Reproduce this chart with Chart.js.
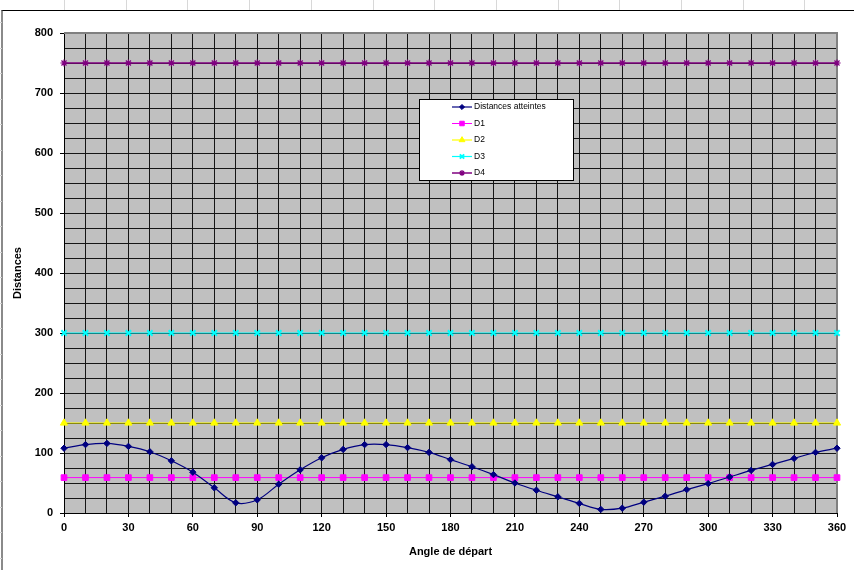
<!DOCTYPE html>
<html>
<head>
<meta charset="utf-8">
<title>Distances atteintes</title>
<script src="https://cdn.jsdelivr.net/npm/chart.js@4/dist/chart.umd.min.js"></script>
<style>
  html, body { margin: 0; padding: 0; background: #fff; }
  #sheet { position: relative; width: 854px; height: 570px; overflow: hidden; background: #fff; }
  .cellv { position: absolute; top: 0; width: 1px; height: 10px; background: #d8d8d8; }
  .cellh { position: absolute; left: 0; width: 2px; height: 1px; background: #d0d0d0; }
  #frame { position: absolute; left: 1px; top: 10px; width: 870px; height: 580px;
           border-left: 2px solid #8a8a8a; border-top: 1px solid #000; background: #fff; }
  #chart { position: absolute; left: 0; top: 0; }
</style>
</head>
<body>
<div id="sheet">
  <div id="frame"></div>
  <canvas id="chart" width="854" height="570"></canvas>
</div>
<script>
// Angles de départ (degrés)
const angles = [0, 10, 20, 30, 40, 50, 60, 70, 80, 90, 100, 110, 120, 130, 140, 150, 160, 170, 180,
                190, 200, 210, 220, 230, 240, 250, 260, 270, 280, 290, 300, 310, 320, 330, 340, 350, 360];

// Distances atteintes pour chaque angle
const distancesAtteintes = [108, 114, 116, 111, 102, 87, 68, 42, 17, 22, 48, 72, 92, 106, 114, 114, 109, 101, 89,
                            77, 64, 50, 38, 27, 16, 6, 8, 18, 28, 39, 49, 60, 71, 81, 91, 101, 108];

// Seuils D1 à D4
const d1 = [59, 59, 59, 59, 59, 59, 59, 59, 59, 59, 59, 59, 59, 59, 59, 59, 59, 59, 59,
            59, 59, 59, 59, 59, 59, 59, 59, 59, 59, 59, 59, 59, 59, 59, 59, 59, 59];
const d2 = [150, 150, 150, 150, 150, 150, 150, 150, 150, 150, 150, 150, 150, 150, 150, 150, 150, 150, 150,
            150, 150, 150, 150, 150, 150, 150, 150, 150, 150, 150, 150, 150, 150, 150, 150, 150, 150];
const d3 = [300, 300, 300, 300, 300, 300, 300, 300, 300, 300, 300, 300, 300, 300, 300, 300, 300, 300, 300,
            300, 300, 300, 300, 300, 300, 300, 300, 300, 300, 300, 300, 300, 300, 300, 300, 300, 300];
const d4 = [750, 750, 750, 750, 750, 750, 750, 750, 750, 750, 750, 750, 750, 750, 750, 750, 750, 750, 750,
            750, 750, 750, 750, 750, 750, 750, 750, 750, 750, 750, 750, 750, 750, 750, 750, 750, 750];

// Graduations étiquetées
const xLabelTicks = [0, 30, 60, 90, 120, 150, 180, 210, 240, 270, 300, 330, 360];
const yLabelTicks = [0, 100, 200, 300, 400, 500, 600, 700, 800];

// Lignes de la feuille autour du graphique
(function () {
  const sheet = document.getElementById('sheet');
  for (let k = 0; k < 14; k++) {
    const d = document.createElement('div');
    d.className = 'cellv';
    d.style.left = Math.round(64 + 61.7 * k) + 'px';
    sheet.insertBefore(d, sheet.firstChild);
  }
  for (let y = 22; y < 570; y += 25.5) {
    const d = document.createElement('div');
    d.className = 'cellh';
    d.style.top = Math.round(y) + 'px';
    sheet.appendChild(d);
  }
})();

const FONT = "'Liberation Sans', Arial, sans-serif";

// Fond gris de la zone de traçage
const plotBackground = {
  id: 'plotBackground',
  beforeDraw(chart) {
    const { ctx, chartArea: a } = chart;
    ctx.save();
    ctx.fillStyle = '#c0c0c0';
    ctx.fillRect(a.left, a.top, a.right - a.left, a.bottom - a.top);
    ctx.restore();
  }
};

// Cadre gris (haut et droite) de la zone de traçage
const plotFrame = {
  id: 'plotFrame',
  beforeDatasetsDraw(chart) {
    const { ctx, chartArea: a } = chart;
    ctx.save();
    ctx.strokeStyle = '#808080';
    ctx.lineWidth = 2;
    ctx.beginPath();
    ctx.moveTo(a.left, a.top);
    ctx.lineTo(a.right, a.top);
    ctx.lineTo(a.right, a.bottom);
    ctx.stroke();
    ctx.restore();
  }
};

// Légende encadrée posée dans la zone de traçage
const boxLegend = {
  id: 'boxLegend',
  afterDraw(chart) {
    const { ctx } = chart;
    const bx = 419.5, by = 99.5, bw = 154, bh = 81;
    ctx.save();
    ctx.fillStyle = '#fff';
    ctx.fillRect(bx, by, bw, bh);
    ctx.strokeStyle = '#000';
    ctx.lineWidth = 1;
    ctx.strokeRect(bx, by, bw, bh);
    chart.data.datasets.forEach((ds, i) => {
      const y = 107 + i * 16.5;
      ctx.strokeStyle = ds.borderColor;
      ctx.lineWidth = ds.borderWidth;
      ctx.beginPath();
      ctx.moveTo(452, y);
      ctx.lineTo(472, y);
      ctx.stroke();
      const opts = {
        pointStyle: ds.pointStyle,
        radius: ds.pointRadius * 0.8,
        rotation: 0,
        borderWidth: ds.pointBorderWidth
      };
      ctx.fillStyle = ds.pointBackgroundColor;
      ctx.strokeStyle = ds.pointBorderColor;
      ctx.lineWidth = ds.pointBorderWidth;
      if (Chart.helpers && Chart.helpers.drawPoint) {
        Chart.helpers.drawPoint(ctx, opts, 462, y);
      }
      ctx.fillStyle = '#000';
      ctx.font = '8.5px ' + FONT;
      ctx.textBaseline = 'middle';
      ctx.textAlign = 'left';
      ctx.fillText(ds.label, 474, y);
    });
    ctx.restore();
  }
};

function series(label, data, color, style, radius, width, tension, markerWidth) {
  return {
    label: label,
    data: data,
    borderColor: color,
    backgroundColor: color,
    pointBackgroundColor: color,
    pointBorderColor: color,
    pointStyle: style,
    pointRadius: radius,
    pointHoverRadius: radius,
    pointBorderWidth: markerWidth,
    borderWidth: width,
    tension: tension,
    clip: false,
    fill: false
  };
}

new Chart(document.getElementById('chart'), {
  type: 'line',
  data: {
    labels: angles,
    datasets: [
      series('Distances atteintes', distancesAtteintes, '#000080', 'rectRot', 3.2, 1.2, 0.35, 1),
      series('D1', d1, '#ff00ff', 'rect', 4, 1, 0, 1),
      series('D2', d2, '#ffff00', 'triangle', 4.2, 1.2, 0, 1),
      series('D3', d3, '#00ffff', 'crossRot', 3.8, 1.2, 0, 2),
      series('D4', d4, '#800080', 'star', 3.6, 1.5, 0, 1.2)
    ]
  },
  options: {
    responsive: false,
    animation: false,
    devicePixelRatio: 1,
    layout: { padding: { top: 33, right: 17, left: 0, bottom: 0 } },
    plugins: {
      legend: { display: false },
      tooltip: { enabled: false },
      title: { display: false }
    },
    scales: {
      x: {
        type: 'category',
        offset: false,
        afterFit(scale) { scale.height = 57; },
        border: { display: true, color: '#000', width: 1 },
        grid: {
          color: (c) => (c.index === angles.length - 1 ? '#808080' : '#151515'),
          lineWidth: 1,
          tickLength: 4,
          tickColor: (c) => (xLabelTicks.includes(angles[c.index]) ? '#000' : 'rgba(0,0,0,0)')
        },
        ticks: {
          autoSkip: false,
          maxRotation: 0,
          minRotation: 0,
          padding: 4,
          color: '#000',
          font: { family: FONT, size: 11, weight: 'bold' },
          callback: function (value, index) {
            const a = angles[index];
            return xLabelTicks.includes(a) ? String(a) : '';
          }
        },
        title: {
          display: true,
          text: 'Angle de départ',
          color: '#000',
          font: { family: FONT, size: 11, weight: 'bold' },
          padding: { top: 0, bottom: 11 }
        }
      },
      y: {
        type: 'linear',
        min: 0,
        max: 800,
        afterFit(scale) { scale.width = 64; },
        border: { display: true, color: '#000', width: 1 },
        grid: {
          color: (c) => (c.tick && c.tick.value === 800 ? '#808080' : '#151515'),
          lineWidth: 1,
          tickLength: 4,
          tickColor: (c) => (c.tick && yLabelTicks.includes(c.tick.value) ? '#000' : 'rgba(0,0,0,0)')
        },
        ticks: {
          stepSize: 25,
          autoSkip: false,
          padding: 7,
          color: '#000',
          font: { family: FONT, size: 11, weight: 'bold' },
          callback: (v) => (yLabelTicks.includes(v) ? String(v) : '')
        },
        title: {
          display: true,
          text: 'Distances',
          color: '#000',
          font: { family: FONT, size: 11, weight: 'bold' },
          padding: { top: 11, bottom: 0 }
        }
      }
    }
  },
  plugins: [plotBackground, plotFrame, boxLegend]
});
</script>
</body>
</html>
